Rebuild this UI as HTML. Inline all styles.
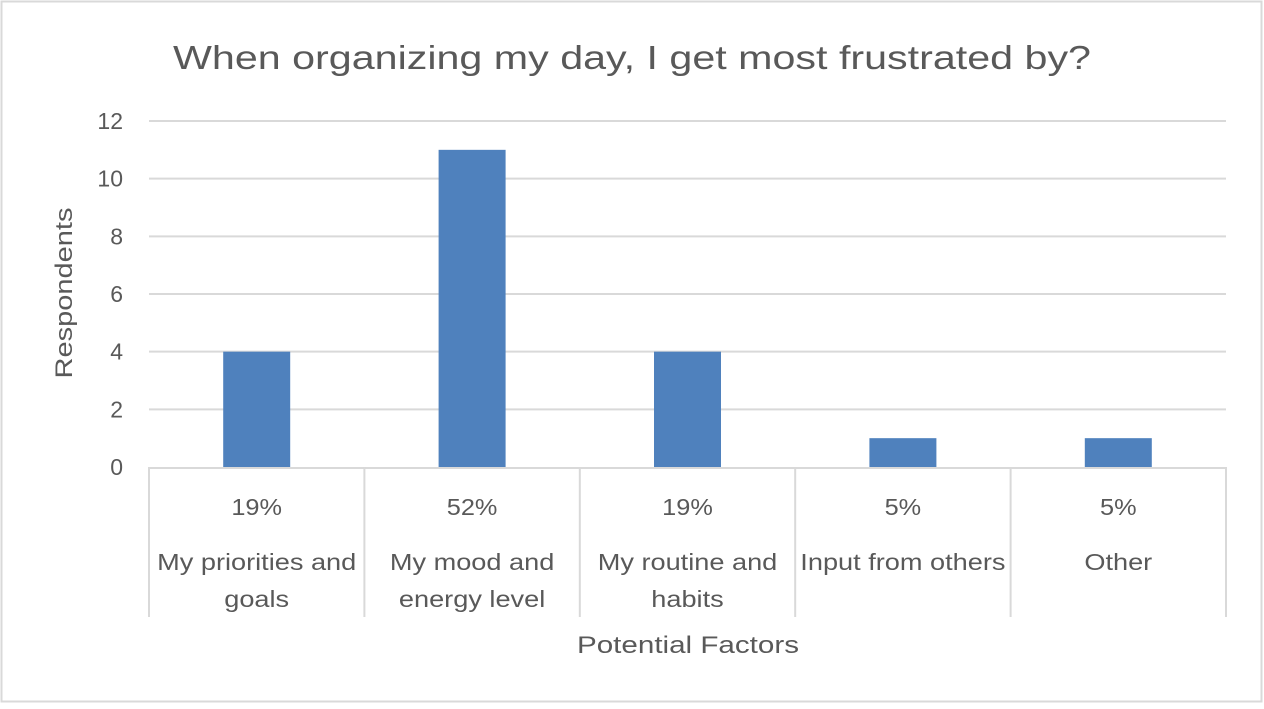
<!DOCTYPE html>
<html><head><meta charset="utf-8"><style>
html,body{margin:0;padding:0;background:#fff;}
svg text{font-family:"Liberation Sans",sans-serif;fill:#595959;}
</style></head><body>
<svg id="chart" width="1264" height="704" xmlns="http://www.w3.org/2000/svg">
<rect x="1.5" y="1.5" width="1260" height="700" fill="#fff" stroke="#d9d9d9" stroke-width="2"/>
<text x="632" y="69" text-anchor="middle" font-size="33" textLength="918" lengthAdjust="spacingAndGlyphs">When organizing my day, I get most frustrated by?</text>
<text transform="translate(72,293) rotate(-90)" text-anchor="middle" font-size="24" textLength="171" lengthAdjust="spacingAndGlyphs">Respondents</text>
<text x="688" y="653" text-anchor="middle" font-size="24" textLength="222" lengthAdjust="spacingAndGlyphs">Potential Factors</text>
<g id="grid"></g><g id="bars"></g><g id="xaxis"></g>
</svg>
<script>
const categories=[["My priorities and","goals"],["My mood and","energy level"],["My routine and","habits"],["Input from others"],["Other"]];
const values=[4,11,4,1,1];
const percents=["19%","52%","19%","5%","5%"];
const yTicks=[0,2,4,6,8,10,12];
const X0=149,X1=1226,Y0=467,Y1=121,YMAX=12;
const NS="http://www.w3.org/2000/svg";
const bw=(X1-X0)/categories.length;
function y(v){return Y0-(v/YMAX)*(Y0-Y1);}
function xc(i){return X0+bw*(i+0.5);}
function mk(t,a,p){const e=document.createElementNS(NS,t);for(const k in a)e.setAttribute(k,a[k]);p.appendChild(e);return e;}
function stretch(t,f){const w=t.getComputedTextLength();t.setAttribute('textLength',w*f);t.setAttribute('lengthAdjust','spacingAndGlyphs');}
const grid=document.getElementById('grid'),bars=document.getElementById('bars'),xa=document.getElementById('xaxis');
yTicks.forEach(v=>{
  if(v>0){const l=mk('line',{x1:X0,x2:X1,y1:y(v),y2:y(v),stroke:'#d9d9d9','stroke-width':2},grid);
  
  }
  const t=mk('text',{x:123,y:y(v)+8,'text-anchor':'end','font-size':23},grid);t.textContent=v;
  
  
});
values.forEach((v,i)=>{
  const w=67;
  const r=mk('rect',{x:xc(i)-w/2,y:y(v),width:w,height:Y0-y(v),fill:'#4f81bd'},bars);
  
  
});
const ax=mk('line',{x1:X0,x2:X1,y1:Y0+1,y2:Y0+1,stroke:'#d9d9d9','stroke-width':2},xa);


for(let i=0;i<=categories.length;i++){
  const s=mk('line',{x1:X0+bw*i,x2:X0+bw*i,y1:Y0,y2:617,stroke:'#d9d9d9','stroke-width':2},xa);
  
  
}
categories.forEach((c,i)=>{
  const p=mk('text',{x:xc(i),y:515,'text-anchor':'middle','font-size':23},xa);p.textContent=percents[i];
  
  
  stretch(p,1.1);
  c.forEach((ln,j)=>{
    const t=mk('text',{x:xc(i),y:570+j*37,'text-anchor':'middle','font-size':23},xa);t.textContent=ln;
    
    
    stretch(t,1.18);
  });
});
</script>
</body></html>
